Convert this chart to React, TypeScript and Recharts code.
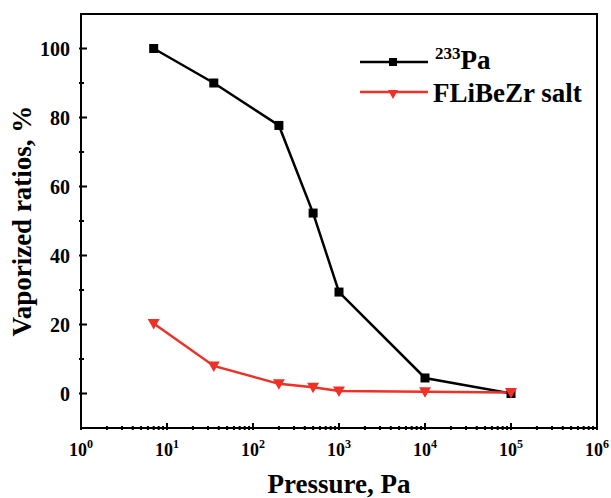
import React from "react";
import { LineChart, Line, XAxis, YAxis, Label, ReferenceLine } from "recharts";

// pressure (Pa) and vaporized ratios (%)
const pressure = [7, 35, 200, 500, 1000, 10000, 100000];
const pa233 = [100, 90, 77.7, 52.3, 29.4, 4.5, 0];
const saltRatio = [20.3, 8, 2.8, 1.8, 0.7, 0.5, 0.3];

const xMajorTicks = [1, 10, 100, 1000, 10000, 100000, 1000000];
const yMajorTicks = [0, 20, 40, 60, 80, 100];
const yMinorTicks = [10, 30, 50, 70, 90];

const FONT = '"Liberation Serif", "Times New Roman", serif';
const RED = "#ee3026";

const W = 611;
const H = 498;
const M = { top: 14, right: 14, bottom: 0, left: 0 };
const Y_AXIS_W = 81;
const X_AXIS_H = 70;

const data = pressure.map((p, i) => ({ p, pa: pa233[i], salt: saltRatio[i] }));

const xMinorTicks: number[] = [];
xMajorTicks.slice(0, -1).forEach((d) => {
  for (let m = 2; m <= 9; m++) xMinorTicks.push(d * m);
});
const xAllTicks = [...xMajorTicks, ...xMinorTicks].sort((a, b) => a - b);
const yAllTicks = [...yMajorTicks, ...yMinorTicks].sort((a, b) => a - b);

const XTick = (props: any) => {
  const { x, y, payload } = props;
  const cx = Number(x);
  const cy = Number(y);
  const v = payload.value;
  const exp = Math.round(Math.log10(v));
  const major = Math.abs(Math.pow(10, exp) - v) < 1e-6;
  const len = major ? 7 : 4;
  return (
    <g>
      <rect x={cx - 1} y={cy - len} width={2} height={len} fill="#000" />
      {major && (
        <text x={cx} y={cy + 26} textAnchor="middle" fontFamily={FONT} fontWeight="bold" fontSize={18} fill="#000">
          <tspan>10</tspan>
          <tspan dy={-8} fontSize={12}>{exp}</tspan>
        </text>
      )}
    </g>
  );
};

const YTick = (props: any) => {
  const { x, y, payload } = props;
  const cx = Number(x);
  const cy = Number(y);
  const major = yMajorTicks.includes(payload.value);
  return (
    <g>
      <rect x={cx} y={cy - 1} width={major ? 8 : 5} height={2} fill="#000" />
      {major && (
        <text x={cx - 9} y={cy} dy="0.35em" textAnchor="end" fontFamily={FONT} fontWeight="bold" fontSize={20} fill="#000">
          {payload.value}
        </text>
      )}
    </g>
  );
};

const SquareDot = (props: any) => {
  const { cx, cy, index } = props;
  return <rect key={`sq-${index}`} x={cx - 4.5} y={cy - 4.5} width={9} height={9} fill="#000" />;
};

const TriDot = (props: any) => {
  const { cx, cy, index } = props;
  return (
    <polygon
      key={`tri-${index}`}
      points={`${cx - 6},${cy - 4.5} ${cx + 6},${cy - 4.5} ${cx},${cy + 6}`}
      fill={RED}
    />
  );
};

// frame box and legend, laid over the chart
const Overlay = () => {
  const left = M.left + Y_AXIS_W;
  const top = M.top;
  const right = W - M.right;
  const bottom = H - M.bottom - X_AXIS_H;
  return (
    <svg width={W} height={H} style={{ position: "absolute", left: 0, top: 0, pointerEvents: "none" }}>
      <rect x={left - 1} y={top - 1} width={right - left + 2} height={2} fill="#000" />
      <rect x={right - 1} y={top - 1} width={2} height={bottom - top + 2} fill="#000" />
      <g transform="translate(355, 40)">
        <line x1={5} x2={73} y1={22} y2={22} stroke="#000" strokeWidth={2.5} />
        <rect x={34} y={18} width={8} height={8} fill="#000" />
        <text x={80} y={29} fontFamily={FONT} fontWeight="bold" fontSize={27} fill="#000">
          <tspan fontSize={17} dy={-10}>233</tspan>
          <tspan dy={10}>Pa</tspan>
        </text>
        <line x1={5} x2={73} y1={52} y2={52} stroke={RED} strokeWidth={2.5} />
        <polygon points="33,50 43,50 38,59" fill={RED} />
        <text x={78} y={62} fontFamily={FONT} fontWeight="bold" fontSize={27} fill="#000">
          FLiBeZr salt
        </text>
      </g>
    </svg>
  );
};

export default function App() {
  return (
    <div style={{ position: "absolute", left: 0, top: 0, width: W, height: H, background: "#fff" }}>
      <LineChart width={W} height={H} data={data} margin={M}>
        <XAxis
          dataKey="p"
          type="number"
          scale="log"
          domain={[1, 1000000]}
          ticks={xAllTicks}
          interval={0}
          height={X_AXIS_H}
          tickSize={0}
          tick={<XTick />}
          stroke="#000"
          strokeWidth={2}
        >
          <Label
            value="Pressure, Pa"
            position="insideBottom"
            offset={5}
            style={{ fontFamily: FONT, fontWeight: "bold", fontSize: 27, fill: "#000" }}
          />
        </XAxis>
        <YAxis
          type="number"
          domain={[-10, 110]}
          ticks={yAllTicks}
          interval={0}
          width={Y_AXIS_W}
          tickSize={0}
          tick={<YTick />}
          stroke="#000"
          strokeWidth={2}
        >
          <Label
            content={(p: any) => {
              const vb = p.viewBox;
              return (
                <text
                  transform={`translate(${vb.x + 22}, ${vb.y + vb.height / 2}) rotate(-90)`}
                  textAnchor="middle"
                  dy="0.35em"
                  fontFamily={FONT}
                  fontWeight="bold"
                  fontSize={27}
                  fill="#000"
                >
                  Vaporized ratios, %
                </text>
              );
            }}
          />
        </YAxis>
        <ReferenceLine y={110} stroke="#000" strokeWidth={2} />
        <ReferenceLine x={1000000} stroke="#000" strokeWidth={2} />
        <Line type="linear" dataKey="pa" stroke="#000" strokeWidth={2.5} dot={<SquareDot />} activeDot={false} isAnimationActive={false} />
        <Line type="linear" dataKey="salt" stroke={RED} strokeWidth={2.5} dot={<TriDot />} activeDot={false} isAnimationActive={false} />
      </LineChart>
      <Overlay />
    </div>
  );
}
